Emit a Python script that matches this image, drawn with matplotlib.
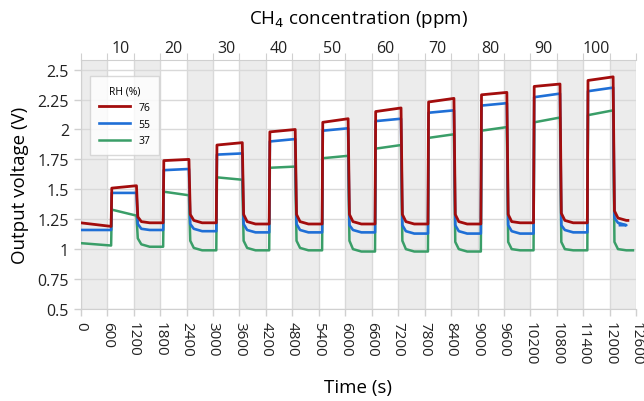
import numpy as np
import matplotlib
matplotlib.use('Agg')
import matplotlib.pyplot as plt

plt.rcParams['font.family'] = ['Open Sans', 'DejaVu Sans']

# ==================== DATA ====================
ppm_labels = [10, 20, 30, 40, 50, 60, 70, 80, 90, 100]
ppm_label_pos = [900, 2100, 3300, 4500, 5700, 6900, 8100, 9300, 10500, 11700]
x_ticks = list(range(0, 12601, 600))
y_ticks = [0.5, 0.75, 1, 1.25, 1.5, 1.75, 2, 2.25, 2.5]
y_tick_labels = ['0.5', '0.75', '1', '1.25', '1.5', '1.75', '2', '2.25', '2.5']

# gas on / off switching times (s)
t_on = [690, 1870, 3075, 4275, 5475, 6675, 7875, 9075, 10270, 11490]
t_off = [1265, 2455, 3665, 4865, 6065, 7265, 8465, 9665, 10870, 12075]

# RH 76 %
red_first = [1.22, 1.19]
red_on_start = [1.51, 1.74, 1.87, 1.98, 2.06, 2.15, 2.23, 2.29, 2.36, 2.41]
red_on_end = [1.53, 1.75, 1.89, 2.00, 2.09, 2.18, 2.26, 2.31, 2.38, 2.44]
red_knee = [1.27, 1.29, 1.29, 1.29, 1.29, 1.29, 1.29, 1.29, 1.30, 1.32]
red_tail = [1.23, 1.24, 1.23, 1.23, 1.23, 1.23, 1.23, 1.23, 1.24, 1.26]
red_base = [1.22, 1.22, 1.21, 1.21, 1.21, 1.21, 1.21, 1.22, 1.22, 1.24]
red_end = 12410

# RH 55 %
blue_first = [1.16, 1.16]
blue_on_start = [1.47, 1.66, 1.79, 1.90, 1.99, 2.07, 2.14, 2.20, 2.27, 2.32]
blue_on_end = [1.47, 1.67, 1.80, 1.92, 2.01, 2.09, 2.16, 2.22, 2.30, 2.35]
blue_knee = [1.21, 1.21, 1.21, 1.21, 1.20, 1.20, 1.20, 1.20, 1.20, 1.26]
blue_tail = [1.17, 1.17, 1.16, 1.16, 1.16, 1.15, 1.15, 1.15, 1.16, 1.22]
blue_base = [1.16, 1.15, 1.14, 1.14, 1.14, 1.13, 1.13, 1.13, 1.14, 1.20]
blue_end = 12230

# RH 37 %
green_first = [1.05, 1.03]
green_on_start = [1.33, 1.48, 1.60, 1.68, 1.76, 1.84, 1.93, 1.99, 2.06, 2.12]
green_on_end = [1.28, 1.45, 1.58, 1.69, 1.78, 1.87, 1.96, 2.02, 2.10, 2.16]
green_knee = [1.09, 1.07, 1.07, 1.07, 1.07, 1.07, 1.06, 1.06, 1.06, 1.06]
green_tail = [1.04, 1.01, 1.01, 1.01, 1.00, 1.00, 1.00, 1.00, 1.00, 1.00]
green_base = [1.02, 0.99, 0.99, 0.99, 0.98, 0.98, 0.98, 0.99, 0.99, 0.99]
green_end = 12525
# ======================================================================


def build_trace(first, on_start, on_end, knee, tail, base, t_end):
    ts = [0, t_on[0]]
    vs = [first[0], first[1]]
    for k in range(len(t_on)):
        nxt = t_on[k + 1] if k + 1 < len(t_on) else t_end
        ts += [t_on[k] + 15, t_off[k], t_off[k] + 30, t_off[k] + 110, t_off[k] + 300, nxt]
        vs += [on_start[k], on_end[k], knee[k], tail[k], base[k], base[k]]
    return np.array(ts), np.array(vs)


fig = plt.figure(figsize=(6.44, 4.02), dpi=100)
ax = fig.add_axes([0.1253, 0.229, 0.8627, 0.619])

# gray bands (gas off periods)
for x0 in range(0, 12600, 1200):
    ax.axvspan(x0, x0 + 600, color='#ececec', lw=0, zorder=0)

ax.set_xlim(0, 12600)
ax.set_ylim(0.5, 2.58)
ax.set_xticks(x_ticks)
ax.set_xticklabels([str(v) for v in x_ticks], rotation=-90, fontsize=11)
ax.set_yticks(y_ticks)
ax.set_yticklabels(y_tick_labels, fontsize=11.5)
ax.grid(True, color='#d9d9d9', lw=1, zorder=1)
ax.set_axisbelow(True)
ax.spines['right'].set_visible(False)
for s in ['left', 'bottom', 'top']:
    ax.spines[s].set_color('#d0d0d0')
ax.tick_params(colors='#d0d0d0', labelcolor='#222222', length=5, width=1)

series = [
    ('37', '#3a9e68', 1.8, build_trace(green_first, green_on_start, green_on_end,
                                       green_knee, green_tail, green_base, green_end)),
    ('55', '#1f6fd6', 1.9, build_trace(blue_first, blue_on_start, blue_on_end,
                                       blue_knee, blue_tail, blue_base, blue_end)),
    ('76', '#a30d0d', 2.0, build_trace(red_first, red_on_start, red_on_end,
                                       red_knee, red_tail, red_base, red_end)),
]
handles = {}
for lbl, col, lw, (ts, vs) in series:
    h, = ax.plot(ts, vs, color=col, lw=lw, zorder=3, solid_joinstyle='round')
    handles[lbl] = h

leg = ax.legend([handles['76'], handles['55'], handles['37']], ['76', '55', '37'],
                title='RH (%)', fontsize=7.5, title_fontsize=7.5,
                loc='upper left', bbox_to_anchor=(0.017, 0.935),
                borderaxespad=0, frameon=True, fancybox=False, edgecolor='#d0d0d0',
                handlelength=3.0, labelspacing=0.55, borderpad=0.85)
leg.get_frame().set_linewidth(1)

ax.set_xlabel('Time (s)', fontsize=13.5, labelpad=10)
ax.set_ylabel('Output voltage (V)', fontsize=13.5, labelpad=6)

# top axis with concentrations
ax2 = ax.twiny()
ax2.set_xlim(0, 12600)
ax2.set_xticks(x_ticks)
ax2.set_xticklabels([])
ax2.set_xticks(ppm_label_pos, minor=True)
ax2.set_xticklabels([str(v) for v in ppm_labels], minor=True, fontsize=11.5)
ax2.tick_params(which='major', colors='#d0d0d0', length=5)
ax2.tick_params(which='minor', length=0, pad=3, labelcolor='#222222')
for s in ax2.spines.values():
    s.set_visible(False)
ax2.set_xlabel('CH$_4$ concentration (ppm)', fontsize=13.5, labelpad=12)

fig.savefig('out.png', dpi=100)
